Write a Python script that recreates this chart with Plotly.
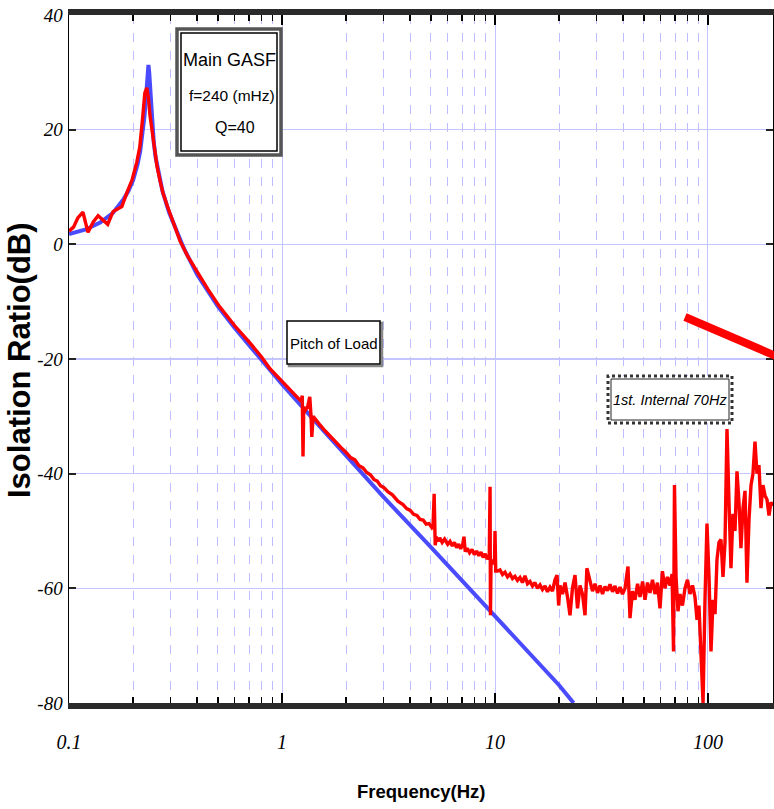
import plotly.graph_objects as go

# ---------------- data ----------------
BLUE_FREQ = [0.100, 0.120, 0.140, 0.160, 0.180, 0.190, 0.200, 0.210, 0.216, 0.221,
             0.226, 0.229, 0.232, 0.234, 0.236, 0.238, 0.241, 0.245, 0.250, 0.255,
             0.265, 0.275, 0.295, 0.315, 0.345, 0.40, 0.45, 0.50, 0.60, 0.70,
             0.80, 1.00, 1.5, 2.0, 3.0, 5.0, 7.0, 10.0, 15.0, 20.0, 23.4]
BLUE_DB = [1.8, 2.6, 3.8, 5.4, 7.8, 9.3, 11.2, 14.0, 16.3, 18.9,
           22.3, 24.8, 27.8, 30.0, 31.3, 30.0, 26.5, 21.5, 17.8, 15.2,
           11.8, 9.2, 5.6, 2.8, -0.6, -5.3, -8.3, -10.8, -14.6, -17.6,
           -20.2, -24.4, -31.7, -36.9, -44.1, -52.8, -58.6, -64.8, -71.9, -76.9, -80.0]

RED_FREQ = [
    0.100, 0.105, 0.110, 0.1163, 0.1228, 0.130, 0.137, 0.143, 0.152, 0.161,
    0.170, 0.177, 0.187, 0.198, 0.208, 0.215, 0.222, 0.227, 0.232, 0.236,
    0.240, 0.245, 0.252, 0.259, 0.268, 0.276, 0.290, 0.308, 0.332, 0.36,
    0.40, 0.45, 0.51, 0.60, 0.707, 0.80, 0.878,
    1.00, 1.05, 1.10, 1.15, 1.20, 1.23, 1.245, 1.255, 1.265, 1.29,
    1.32, 1.35, 1.37, 1.38, 1.40, 1.45, 1.50, 1.60, 1.70, 1.81,
    1.90, 2.00, 2.10, 2.20, 2.30, 2.40, 2.50, 2.60, 2.70, 2.80,
    2.90, 3.00, 3.15, 3.30, 3.50, 3.70, 3.85, 4.00, 4.15, 4.30,
    4.45, 4.60, 4.75, 4.90, 5.05, 5.12, 5.18, 5.24, 5.30, 5.40,
    5.50, 5.65, 5.80, 6.00, 6.15, 6.30, 6.45, 6.60, 6.75, 6.90,
    7.05, 7.15, 7.25, 7.40, 7.60, 7.80, 8.00, 8.20, 8.40, 8.60,
    8.80, 9.00, 9.20, 9.40, 9.48, 9.52, 9.58, 9.70, 9.85, 9.95,
    10.00, 10.08,
    10.28, 10.56, 10.85, 11.14, 11.45, 11.76, 12.08, 12.41, 12.75, 13.10,
    13.46, 13.83, 14.21, 14.60, 15.00, 15.41, 15.83, 16.27, 16.71, 17.17,
    17.64, 18.13, 18.62, 19.13, 19.55, 19.90, 20.20, 20.75, 21.32, 21.90,
    22.50, 23.10, 23.75, 24.40, 25.07, 25.75, 26.46, 27.00, 27.93, 28.70,
    29.49, 30.30, 31.12, 31.97, 32.85, 33.75, 34.67, 35.62, 36.60, 37.60,
    38.63, 39.69, 40.77, 42.10, 43.04, 44.20, 45.43, 46.70, 47.95, 49.30,
    50.61, 52.00, 53.42, 54.90, 56.39, 57.90, 59.52, 61.10, 62.83, 64.50,
    66.32, 67.80, 68.90, 69.60, 70.80, 72.30, 73.88, 75.90, 77.98, 80.10,
    82.31, 84.60, 86.89, 88.80, 90.70, 92.70, 94.80, 96.81, 98.90, 101.1,
    103.3, 105.6, 107.9, 110.2, 112.6, 115.1, 117.6, 120.2, 122.8, 125.5,
    128.2, 131.0, 133.9, 136.8, 139.8, 142.8, 146.0, 149.2, 152.4, 155.8,
    159.2, 162.6, 166.2, 169.8, 173.5, 177.3, 181.2, 185.2, 189.2, 193.4,
    197.6, 201.9]
RED_DB = [
    2.3, 3.0, 4.6, 5.6, 2.1, 3.9, 5.0, 4.3, 3.5, 5.7,
    6.2, 6.6, 9.0, 11.3, 14.3, 17.0, 22.3, 26.4, 27.3, 25.5,
    22.5, 20.0, 16.5, 13.6, 11.0, 9.0, 6.6, 3.9, 0.6, -2.0,
    -4.9, -7.9, -10.9, -14.2, -17.2, -19.6, -21.7,
    -23.9, -24.8, -25.6, -26.3, -27.0, -27.4, -26.4, -37.0, -28.4, -28.9,
    -28.3, -26.6, -30.2, -33.6, -30.0, -30.8, -31.4, -32.6, -33.7, -34.8,
    -35.5, -36.3, -37.2, -37.6, -38.6, -39.0, -39.8, -40.2, -41.0, -41.3,
    -42.1, -42.4, -43.2, -43.7, -44.8, -45.4, -46.1, -46.4, -47.1, -47.3,
    -48.0, -48.1, -48.8, -48.7, -49.4, -49.0, -43.5, -52.5, -51.0, -51.8,
    -51.2, -52.0, -51.4, -52.3, -51.8, -52.6, -52.0, -52.9, -52.3, -53.1,
    -52.4, -51.0, -53.6, -53.0, -53.8, -53.2, -54.1, -53.5, -54.3, -53.7,
    -54.6, -54.0, -54.9, -54.3, -42.3, -64.7, -55.5, -55.0, -55.8, -55.2,
    -50.0, -57.0,
    -57.0, -56.8, -57.6, -57.2, -58.0, -57.5, -58.3, -57.9, -58.6, -58.1,
    -59.0, -57.8, -59.2, -58.8, -59.6, -59.0, -60.0, -59.4, -60.2, -59.6,
    -60.6, -59.8, -60.5, -58.5, -57.7, -63.0, -59.5, -61.0, -59.0, -61.5,
    -64.7, -60.0, -57.7, -63.5, -59.5, -61.0, -64.7, -56.5, -59.0, -60.5,
    -59.2, -60.8, -59.5, -61.0, -59.7, -60.4, -59.3, -60.6, -59.6, -60.9,
    -59.8, -61.0, -60.0, -56.2, -65.2, -60.5, -62.0, -59.2, -61.5, -58.8,
    -62.0, -59.0, -60.8, -58.5, -61.0, -59.0, -63.5, -57.0, -60.0, -58.0,
    -59.5, -57.5, -71.0, -42.0, -58.0, -64.0, -61.0, -63.0, -60.0, -58.5,
    -61.0, -59.5, -61.5, -65.5, -63.0, -72.0, -80.0, -62.0, -48.7, -58.0,
    -71.0, -62.0, -64.5, -55.0, -52.0, -51.5, -58.0, -52.0, -32.2, -45.0,
    -56.5, -47.0, -50.0, -39.6, -45.0, -53.0, -46.0, -43.0, -59.0, -48.0,
    -42.0, -40.0, -34.4, -40.0, -38.5, -46.0, -42.0, -43.8, -44.5, -47.3,
    -45.0, -45.6]

X_TICKS = [0.1, 1, 10, 100]
X_TICK_TEXT = ["0.1", "1", "10", "100"]
X_MINOR = [0.2, 0.3, 0.4, 0.5, 0.6, 0.7, 0.8, 0.9,
           2, 3, 4, 5, 6, 7, 8, 9,
           20, 30, 40, 50, 60, 70, 80, 90, 200]
Y_TICKS = [-80, -60, -40, -20, 0, 20, 40]
Y_TICK_TEXT = ["-80", "-60", "-40", "-20", "0", "20", "40"]

# ---------------- layout helpers (window pixel -> paper) ----------------
W, H = 774, 809
L, R, T, B = 69, 773, 15, 703          # plot area in window pixels


def px(x):
    return (x - L) / (R - L)


def py(y):
    return (B - y) / (B - T)


SANS = "Liberation Sans, Arial, sans-serif"
SERIF = "Liberation Serif, Times New Roman, serif"

fig = go.Figure()
fig.add_trace(go.Scatter(x=BLUE_FREQ, y=BLUE_DB, mode="lines",
                         line=dict(color="#4a4aff", width=4), hoverinfo="skip"))
fig.add_trace(go.Scatter(x=RED_FREQ, y=RED_DB, mode="lines",
                         line=dict(color="#ff0000", width=3.4), hoverinfo="skip"))


def rect(x0, y0, x1, y1, color, width, dash="solid"):
    return dict(type="rect", xref="paper", yref="paper",
                x0=px(x0), x1=px(x1), y0=py(y1), y1=py(y0),
                line=dict(color=color, width=width, dash=dash),
                fillcolor="white", layer="above")


shapes = [
    # Main GASF box (double border)
    rect(177, 29, 281, 155, "#555555", 3.5),
    rect(181, 33, 277, 151, "black", 1.5),
    # Pitch of Load box
    rect(289, 323, 382, 366, "#888888", 2.5),
    rect(287, 321, 380, 364, "black", 1.5),
    # 1st Internal box
    rect(608, 376, 732, 423, "#333333", 3, "dot"),
    rect(611, 379, 729, 420, "#222222", 1),
    # thick red pointer line at top right
    dict(type="line", xref="paper", yref="paper",
         x0=px(685), y0=py(317), x1=px(792), y1=py(363),
         line=dict(color="#ff0000", width=8), layer="above"),
]


def label(text, x, y, size, **font_extra):
    return dict(text=text, x=px(x), y=py(y), xref="paper", yref="paper",
                xanchor="center", yanchor="middle", showarrow=False,
                font=dict(family=SANS, size=size, color="black", **font_extra))


annotations = [
    label("Main GASF", 229, 60, 18),
    label("f=240 (mHz)", 232, 96, 15.5),
    label("Q=40", 235, 128, 16),
    label("Pitch of Load", 334, 343, 15),
    label("1st. Internal 70Hz", 670, 400, 14.5, style="italic"),
    label("Frequency(Hz)", 421, 791, 18.5, weight="bold"),
]
yt = label("Isolation Ratio(dB)", 19, 360, 31, weight="bold")
yt["textangle"] = -90
annotations.append(yt)

fig.update_layout(
    width=W, height=H,
    margin=dict(l=L, r=W - R, t=T, b=H - B, pad=0, autoexpand=False),
    paper_bgcolor="white", plot_bgcolor="white",
    showlegend=False,
    shapes=shapes, annotations=annotations,
    xaxis=dict(
        type="log", range=[-1, 2.3052],
        tickmode="array", tickvals=X_TICKS, ticktext=X_TICK_TEXT,
        ticks="inside", ticklen=10, tickwidth=1.5, tickcolor="black",
        showline=True, linewidth=6, linecolor="#2a2a2a", mirror="allticks",
        showgrid=True, gridcolor="#c4c4ff", gridwidth=1, zeroline=False,
        tickfont=dict(family=SERIF, size=20, color="black", style="italic"),
        ticklabelstandoff=16, ticklabeloverflow="allow",
        minor=dict(tickmode="array", tickvals=X_MINOR, ticks="inside", ticklen=6,
                   tickwidth=1.5, tickcolor="black", showgrid=True,
                   gridcolor="#bdbdff", griddash="dash", gridwidth=1),
    ),
    yaxis=dict(
        range=[-80, 40], tickmode="array", tickvals=Y_TICKS, ticktext=Y_TICK_TEXT,
        ticks="inside", ticklen=7, tickwidth=2, tickcolor="#222",
        showline=True, linewidth=1.5, linecolor="black", mirror="allticks",
        showgrid=True, gridcolor="#c4c4ff", gridwidth=1.5, zeroline=False,
        tickfont=dict(family=SERIF, size=19, color="black", style="italic"),
        ticklabelstandoff=1, ticklabeloverflow="allow",
    ),
)

# remove the browser's default 8 px page margin so the figure fills the window
fig.write_html("out.html",
               config={"displayModeBar": False, "staticPlot": True},
               post_script="document.body.style.margin='0';"
                           "document.body.style.overflow='hidden';")
